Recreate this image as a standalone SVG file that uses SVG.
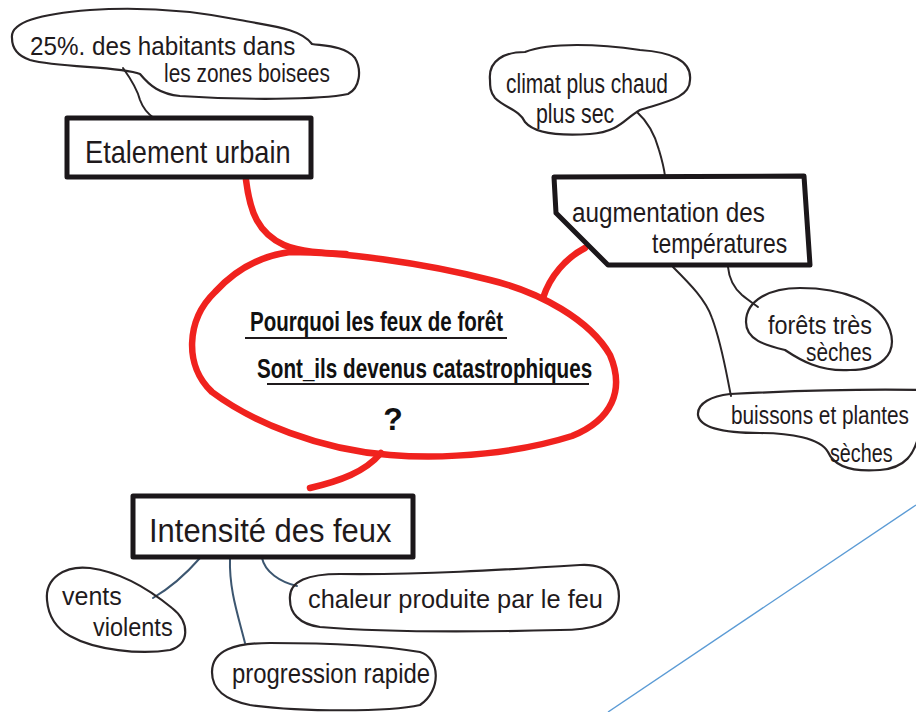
<svg xmlns="http://www.w3.org/2000/svg" width="916" height="712" viewBox="0 0 916 712">
  <style>
    .bg { fill: #ffffff; }
    .box { fill: none; stroke: #1b171a; stroke-width: 5; stroke-linejoin: round; }
    .cloud { fill: none; stroke: #2a2527; stroke-width: 2.2; stroke-linejoin: round; }
    .link { fill: none; stroke: #2a2527; stroke-width: 2; stroke-linecap: round; }
    .link-blue { fill: none; stroke: #3c5670; stroke-width: 2; stroke-linecap: round; }
    .red { fill: none; stroke: #f0221e; stroke-width: 6.5; stroke-linecap: round; stroke-linejoin: round; }
    .txt { font-family: "Liberation Sans", "DejaVu Sans", sans-serif; fill: #1f1a1c; }
    .q { font-family: "Liberation Sans", "DejaVu Sans", sans-serif; fill: #111; font-weight: bold; }
    .ul { stroke: #1f1a1c; stroke-width: 1.8; }
    .sheet { stroke: #5b9bd5; stroke-width: 1.4; fill: none; }
  </style>

  <rect class="bg" x="0" y="0" width="916" height="712"/>

  <!-- edge of a second sheet -->
  <path class="sheet" d="M 916,505 L 608,712"/>

  <!-- connectors -->
  <g id="connectors">
    <!-- red trunks to the central question -->
    <path class="red" d="M 246,180 C 250,212 258,233 284,245 C 300,252 322,253 346,254"/>
    <path class="red" d="M 585,248 C 566,258 550,276 543,298"/>
    <path class="red" d="M 381,453 C 365,472 340,481 310,488"/>
    <!-- thin branches -->
    <path class="link" d="M 123,68 C 133,82 138,92 140,100 C 143,108 148,114 154,118"/>
    <path class="link" d="M 637,112 C 648,122 655,135 659,150 C 662,160 664,168 665,176"/>
    <path class="link" d="M 673,267 C 690,284 706,300 712,318 C 722,345 726,372 731,396"/>
    <path class="link" d="M 728,267 C 729,278 734,288 742,295 C 748,300 754,304 758,307"/>
    <path class="link-blue" d="M 200,558 C 186,574 170,588 153,598"/>
    <path class="link-blue" d="M 230,558 C 229,590 238,615 245,643"/>
    <path class="link-blue" d="M 262,558 C 265,572 280,582 297,586"/>
  </g>

  <!-- central question -->
  <g id="question">
    <path class="red" d="M 290,252 C 340,252 420,262 490,280 C 540,292 590,320 610,355 C 625,390 612,420 572,436 C 522,452 452,460 390,455 C 320,450 252,422 212,392 C 184,366 186,320 215,292 C 235,270 260,256 290,252 Z"/>
    <text class="q" font-size="28" transform="translate(250,331) scale(0.733,1)">Pourquoi les feux de forêt</text>
    <line class="ul" x1="245" y1="338" x2="507" y2="338"/>
    <text class="q" font-size="28" transform="translate(257,378) scale(0.738,1)">Sont_ils devenus catastrophiques</text>
    <line class="ul" x1="267" y1="384" x2="589" y2="384"/>
    <text class="q" x="393" y="430" font-size="32" text-anchor="middle">?</text>
  </g>

  <!-- Etalement urbain -->
  <g id="etalement">
    <rect class="box" x="67" y="118" width="244" height="59"/>
    <text class="txt" font-size="32" transform="translate(85,163) scale(0.85,1)">Etalement urbain</text>
  </g>

  <g id="habitants">
    <path class="cloud" d="M 12,38 C 10,22 40,14 90,10 C 150,6 200,12 240,20 C 270,26 300,28 312,44 C 325,46 345,46 355,58 C 362,70 360,88 348,94 C 320,100 240,100 180,96 C 160,94 150,86 140,74 C 120,66 60,68 30,60 C 15,55 12,46 12,38 Z"/>
    <text class="txt" font-size="25" transform="translate(30,55) scale(0.97,1)">25%. des habitants dans</text>
    <text class="txt" font-size="25" transform="translate(164,82) scale(0.835,1)">les zones boisees</text>
  </g>

  <!-- augmentation des températures -->
  <g id="temperatures">
    <path class="box" d="M 554,177 L 804,176 L 810,265 L 608,265 L 556,213 Z"/>
    <text class="txt" font-size="28" transform="translate(572,222) scale(0.867,1)">augmentation des</text>
    <text class="txt" font-size="28" transform="translate(652,253) scale(0.82,1)">températures</text>
  </g>

  <g id="climat">
    <path class="cloud" d="M 490,80 C 488,60 505,52 525,52 C 550,42 600,44 640,50 C 670,52 692,60 690,80 C 690,98 665,102 640,110 C 625,118 620,132 590,134 C 560,136 535,134 525,122 C 520,110 505,108 495,98 C 490,92 490,86 490,80 Z"/>
    <text class="txt" font-size="27" transform="translate(506,93) scale(0.777,1)">climat plus chaud</text>
    <text class="txt" font-size="27" transform="translate(536,123) scale(0.79,1)">plus sec</text>
  </g>

  <g id="forets">
    <path class="cloud" d="M 746,322 C 746,300 770,288 800,288 C 840,288 880,300 890,330 C 898,355 880,370 850,370 C 820,372 800,360 785,350 C 765,345 746,340 746,322 Z"/>
    <text class="txt" font-size="26" transform="translate(768,334) scale(0.9,1)">forêts très</text>
    <text class="txt" font-size="26" transform="translate(806,361) scale(0.8,1)">sèches</text>
  </g>

  <g id="buissons">
    <path class="cloud" d="M 730,394 C 790,391 860,389 920,390 L 920,430 C 915,455 905,468 880,470 C 855,472 835,468 828,452 C 820,438 790,433 760,433 C 725,433 700,428 698,415 C 697,403 712,396 730,394 Z"/>
    <text class="txt" font-size="26" transform="translate(731,424) scale(0.8,1)">buissons et plantes</text>
    <text class="txt" font-size="26" transform="translate(830,462) scale(0.76,1)">sèches</text>
  </g>

  <!-- Intensité des feux -->
  <g id="intensite">
    <rect class="box" x="133" y="496" width="280" height="61"/>
    <text class="txt" font-size="34" transform="translate(149,542) scale(0.91,1)">Intensité des feux</text>
  </g>

  <g id="vents">
    <path class="cloud" d="M 47,600 C 45,578 65,565 90,568 C 120,572 150,590 172,608 C 190,622 190,645 170,650 C 140,655 95,650 70,636 C 52,626 48,612 47,600 Z"/>
    <text class="txt" font-size="25" transform="translate(62,605)">vents</text>
    <text class="txt" font-size="25" transform="translate(93,636) scale(0.94,1)">violents</text>
  </g>

  <g id="progression">
    <path class="cloud" d="M 212,672 C 212,650 235,643 270,643 C 320,643 380,645 420,652 C 440,658 442,690 420,705 C 390,712 300,712 250,705 C 225,700 212,690 212,672 Z"/>
    <text class="txt" font-size="27" transform="translate(232,683) scale(0.886,1)">progression rapide</text>
  </g>

  <g id="chaleur">
    <path class="cloud" d="M 290,600 C 288,580 310,574 340,574 C 420,575 500,570 580,565 C 612,563 622,585 618,605 C 614,625 590,630 560,630 C 480,632 380,632 320,627 C 298,624 290,612 290,600 Z"/>
    <text class="txt" font-size="26" transform="translate(308,608) scale(0.977,1)">chaleur produite par le feu</text>
  </g>
</svg>
